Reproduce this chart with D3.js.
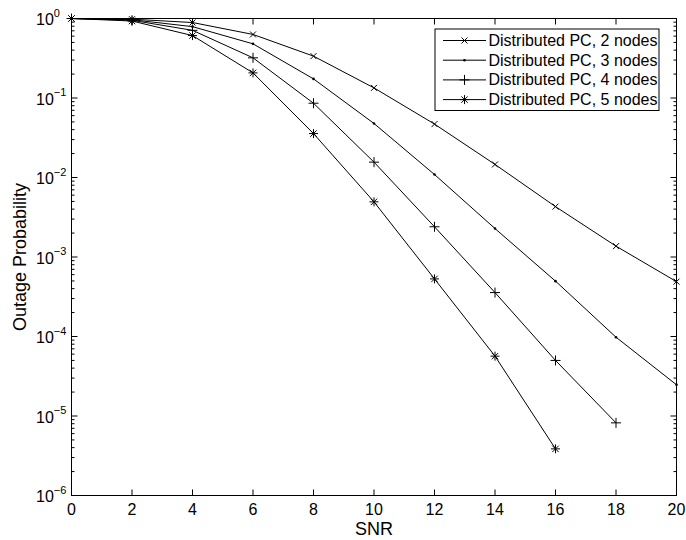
<!DOCTYPE html>
<html><head><meta charset="utf-8">
<script src="https://cdn.jsdelivr.net/npm/d3@7"></script>
<style>body{margin:0;background:#fff}svg{display:block}text{font-family:"Liberation Sans",Arial,sans-serif;fill:#000}</style>
</head><body><svg id="c" width="686" height="540"></svg>
<script>
const snr = [0,2,4,6,8,10,12,14,16,18,20];
const nodes2 = [1,0.98,0.89,0.63,0.336,0.134,0.047,0.0146,0.0043,0.00137,0.00049];
const nodes3 = [1,0.965,0.79,0.48,0.174,0.0478,0.0109,0.00228,0.000497,0.000098,0.0000247];
const nodes4 = [1,0.95,0.71,0.32,0.086,0.0156,0.0024,0.000357,0.00005,0.0000082];
const nodes5 = [1,0.93,0.61,0.207,0.0357,0.00494,0.00053,0.0000566,0.00000386];
const seriesNames = ["Distributed PC, 2 nodes","Distributed PC, 3 nodes","Distributed PC, 4 nodes","Distributed PC, 5 nodes"];
const markers = ["x","dot","plus","star"];
const xTicks = [0,2,4,6,8,10,12,14,16,18,20];
const yTickExps = [0,-1,-2,-3,-4,-5,-6];

const svg = d3.select("#c");
const L=71.5,R=676.5,T=18.5,B=495.5;
const x = d3.scaleLinear().domain([0,20]).range([L,R]);
const y = d3.scaleLog().domain([1e-6,1]).range([B,T]);
const allSeries=[nodes2,nodes3,nodes4,nodes5];

function drawMarker(g,type,cx,cy){
  const s = g.append("g").attr("transform",`translate(${cx},${cy})`).attr("stroke","#000").attr("stroke-width",1).attr("fill","none");
  if(type==="x"){const r=3;s.append("path").attr("d",`M${-r},${-r}L${r},${r}M${-r},${r}L${r},${-r}`);}
  else if(type==="dot"){s.append("circle").attr("r",1.3).attr("fill","#000").attr("stroke","none");}
  else if(type==="plus"){const r=5;s.append("path").attr("d",`M${-r},0L${r},0M0,${-r}L0,${r}`);}
  else {const r=4.5,d=3.2;s.append("path").attr("d",`M${-r},0L${r},0M0,${-r}L0,${r}M${-d},${-d}L${d},${d}M${-d},${d}L${d},${-d}`);}
}

const ax = svg.append("g");
ax.append("rect").attr("x",L).attr("y",T).attr("width",R-L).attr("height",B-T).attr("fill","none").attr("stroke","#000").attr("stroke-width",1);

xTicks.forEach(t=>{
  const px=x(t);
  ax.append("line").attr("x1",px).attr("x2",px).attr("y1",B).attr("y2",B-6).attr("stroke","#000");
  ax.append("line").attr("x1",px).attr("x2",px).attr("y1",T).attr("y2",T+6).attr("stroke","#000");
  ax.append("text").attr("x",px).attr("y",515).attr("text-anchor","middle").attr("font-size",16).text(t);
});
yTickExps.forEach(e=>{
  const py=y(Math.pow(10,e));
  ax.append("line").attr("x1",L).attr("x2",L+6).attr("y1",py).attr("y2",py).attr("stroke","#000");
  ax.append("line").attr("x1",R).attr("x2",R-6).attr("y1",py).attr("y2",py).attr("stroke","#000");
  const t=ax.append("text").attr("x",36).attr("y",py+6.5).attr("text-anchor","start").attr("font-size",16);
  t.append("tspan").text("10");
  t.append("tspan").attr("dy",-8.5).attr("font-size",11).text(e===0?"0":"\u2212"+(-e));
  if(e>-6){
    for(let k=2;k<=9;k++){
      const v=k*Math.pow(10,e-1);const pm=y(v);
      ax.append("line").attr("x1",L).attr("x2",L+3).attr("y1",pm).attr("y2",pm).attr("stroke","#000");
      ax.append("line").attr("x1",R).attr("x2",R-3).attr("y1",pm).attr("y2",pm).attr("stroke","#000");
    }
  }
});
svg.append("text").attr("x",x(10)).attr("y",535).attr("text-anchor","middle").attr("font-size",18).text("SNR");
svg.append("text").attr("transform",`translate(26,${(T+B)/2}) rotate(-90)`).attr("text-anchor","middle").attr("font-size",18).text("Outage Probability");

const line = d3.line().x((d,i)=>x(snr[i])).y(d=>y(d));
const plot = svg.append("g");
allSeries.forEach((s,k)=>{
  plot.append("path").attr("d",line(s)).attr("fill","none").attr("stroke","#000").attr("stroke-width",1);
  s.forEach((v,i)=>drawMarker(plot,markers[k],x(snr[i]),y(v)));
});

const lg = svg.append("g");
lg.append("rect").attr("x",435).attr("y",29).attr("width",224).attr("height",81.5).attr("fill","#fff").attr("stroke","#000");
seriesNames.forEach((n,k)=>{
  const cy=40.5+k*19.7;
  lg.append("line").attr("x1",443).attr("x2",486).attr("y1",cy).attr("y2",cy).attr("stroke","#000");
  drawMarker(lg,markers[k],464.5,cy);
  lg.append("text").attr("x",488.5).attr("y",cy+5.5).attr("font-size",16).text(n);
});
</script></body></html>
